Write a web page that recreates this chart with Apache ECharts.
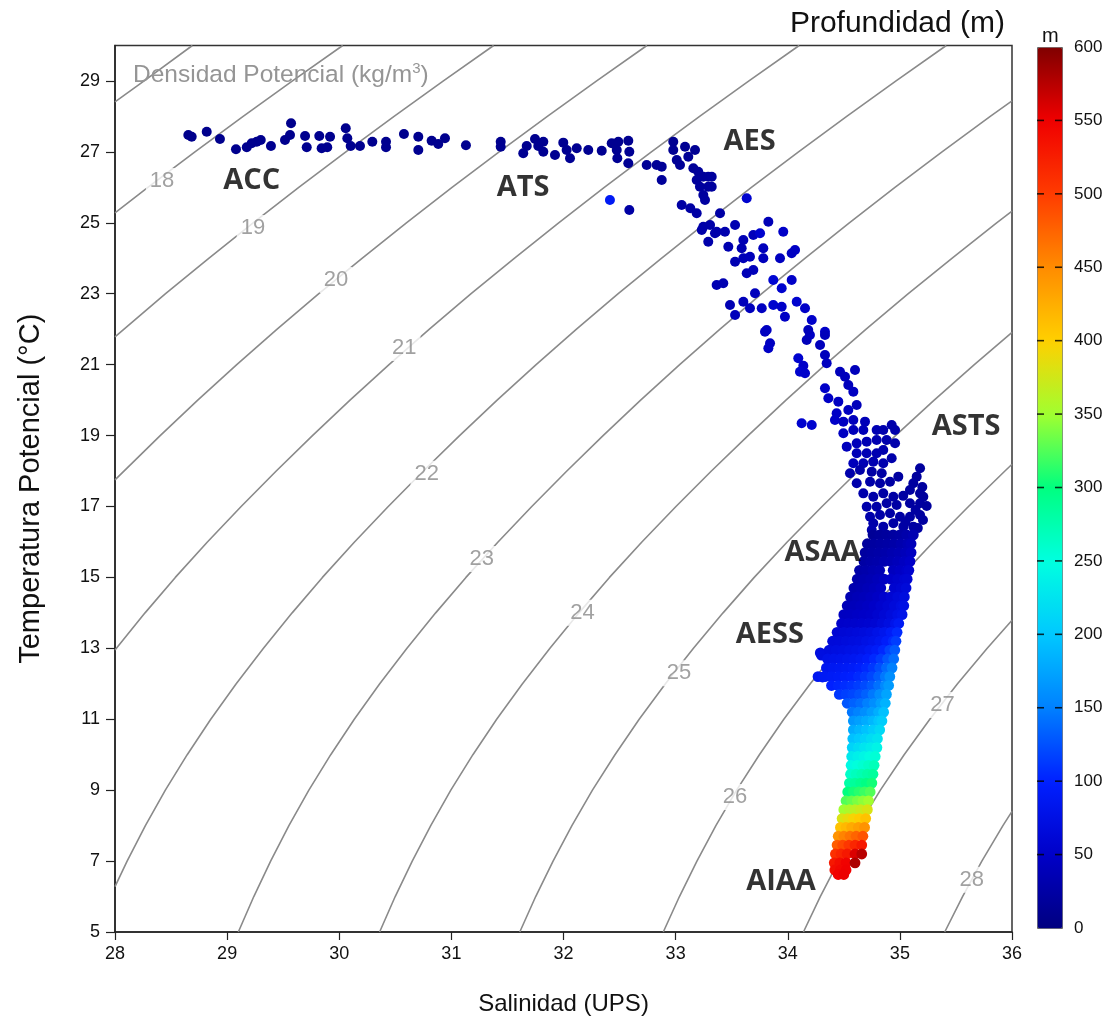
<!DOCTYPE html>
<html><head><meta charset="utf-8">
<script src="https://cdn.jsdelivr.net/npm/echarts@6/dist/echarts.min.js"></script>
<style>html,body{margin:0;padding:0;background:#fff}#c{width:1114px;height:1032px}</style>
</head><body><div id="c"></div><script>
// ---------- axis ticks ----------
const salTicks = [28,29,30,31,32,33,34,35,36];
const tempTicks = [5,7,9,11,13,15,17,19,21,23,25,27,29];
const depthTicks = [0,50,100,150,200,250,300,350,400,450,500,550,600];
const depthDashes = [50,100,150,200,250,300,350,400,450,500,550];

// ---------- isopycnals [S, T] ----------
const iso17 = [[28.0,28.41],[28.26,29],[28.69,30]];
const iso18 = [[28.0,25.28],[28.293,26],[28.713,27],[29.143,28],[29.583,29],[30.031,30]];
const iso19 = [[28.0,21.78],[28.451,23],[28.836,24],[29.232,25],[29.639,26],[30.059,27],[30.489,28],[30.929,29],[31.377,30]];
const iso20 = [[28.0,17.75],[28.403,19],[28.738,20],[29.086,21],[29.446,22],[29.818,23],[30.203,24],[30.599,25],[31.006,26],[31.426,27],[31.856,28],[32.296,29],[32.744,30]];
const iso21 = [[28.0,12.95],[28.268,14],[28.538,15],[28.824,16],[29.125,17],[29.438,18],[29.761,19],[30.096,20],[30.444,21],[30.804,22],[31.176,23],[31.561,24],[31.957,25],[32.364,26],[32.784,27],[33.214,28],[33.654,29],[34.102,30]];
const iso22 = [[28.0,6.28],[28.108,7],[28.271,8],[28.449,9],[28.644,10],[28.854,11],[29.081,12],[29.324,13],[29.58,14],[29.85,15],[30.136,16],[30.437,17],[30.75,18],[31.073,19],[31.408,20],[31.756,21],[32.116,22],[32.488,23],[32.873,24],[33.269,25],[33.676,26],[34.096,27],[34.526,28],[34.966,29],[35.414,30]];
const iso23 = [[29.10,5],[29.238,6],[29.388,7],[29.551,8],[29.729,9],[29.924,10],[30.134,11],[30.361,12],[30.604,13],[30.86,14],[31.13,15],[31.416,16],[31.717,17],[32.03,18],[32.353,19],[32.688,20],[33.036,21],[33.396,22],[33.768,23],[34.153,24],[34.549,25],[34.956,26],[35.376,27],[35.806,28],[36.0,28.44]];
const iso24 = [[30.36,5],[30.499,6],[30.651,7],[30.816,8],[30.995,9],[31.192,10],[31.404,11],[31.634,12],[31.879,13],[32.138,14],[32.41,15],[32.699,16],[33.003,17],[33.319,18],[33.646,19],[33.984,20],[34.335,21],[34.699,22],[35.075,23],[35.464,24],[35.863,25],[36.0,25.33]];
const iso25 = [[31.61,5],[31.752,6],[31.907,7],[32.075,8],[32.258,9],[32.459,10],[32.675,11],[32.909,12],[33.159,13],[33.423,14],[33.701,15],[33.995,16],[34.306,17],[34.628,18],[34.961,19],[35.306,20],[35.664,21],[36.0,21.91]];
const iso26 = [[32.89,5],[33.034,6],[33.19,7],[33.359,8],[33.544,9],[33.747,10],[33.965,11],[34.201,12],[34.454,13],[34.72,14],[35.001,15],[35.299,16],[35.612,17],[35.937,18],[36.0,18.19]];
const iso27 = [[34.14,5],[34.29,6],[34.454,7],[34.632,8],[34.826,9],[35.038,10],[35.267,11],[35.514,12],[35.779,13],[36.0,13.79]];
const iso28 = [[35.40,5],[35.559,6],[35.731,7],[35.919,8],[36.0,8.40]];
const isoLabels = ['18','19','20','21','22','23','24','25','26','27','28'];
const isoLabelPos = [[28.42,26.18],[29.23,24.85],[29.97,23.39],[30.58,21.47],[30.78,17.92],[31.27,15.52],[32.17,14.0],[33.03,12.30],[33.53,8.81],[35.38,11.40],[35.64,6.47]];

// ---------- water-mass labels ----------
const massNames = ['ACC','ATS','AES','ASTS','ASAA','AESS','AIAA'];
const massPos = [[29.22,26.18],[31.64,25.98],[33.66,27.28],[35.59,19.24],[34.31,15.69],[33.84,13.38],[33.94,6.41]];

// ---------- CTD observations [salinity, potential temperature, depth m] ----------
const accPts = [
[28.654,27.477,8],[28.684,27.429,8],[28.818,27.570,9],[28.936,27.364,9],[29.079,27.074,10],[29.175,27.130,10],[29.219,27.243,9],[29.264,27.288,10],[29.300,27.336,10],[29.391,27.166,11],[29.516,27.336,10],[29.561,27.477,9],[29.570,27.807,8],[29.695,27.449,10],[29.710,27.130,11],[29.822,27.449,10],[29.843,27.101,11],[29.893,27.130,11],[29.918,27.429,10],[30.058,27.666,9],[30.072,27.384,10],[30.102,27.166,11],[30.185,27.166,11],[30.295,27.288,10],[30.417,27.288,10],[30.417,27.130,11],[30.577,27.505,9],[30.705,27.429,10],[30.705,27.053,12]
];
const atsPts = [
[30.824,27.316,10],[30.883,27.223,10],[30.943,27.384,10],[31.130,27.186,11],[31.440,27.288,10],[31.440,27.147,11],[31.641,26.960,12],[31.672,27.166,11],[31.746,27.364,10],[31.775,27.166,11],[31.820,27.288,11],[31.820,27.006,12],[31.924,26.912,12],[31.998,27.260,11],[32.028,27.054,12],[32.058,26.820,13],[32.118,27.101,12],[32.221,27.054,12],[32.341,27.034,12],[32.430,27.243,11],[32.475,27.054,12],[32.489,27.288,11],[32.480,26.820,13],[32.578,27.316,11],[32.587,27.006,13],[32.578,26.679,14],[32.414,25.644,90],[32.587,25.362,25]
];
const aesPts = [
[32.742,26.632,15],[32.831,26.632,15],[32.876,26.584,16],[32.876,26.208,18],[32.979,27.288,12],[32.979,27.054,13],[33.010,26.772,15],[33.039,26.631,16],[33.084,27.147,13],[33.113,26.865,15],[33.173,27.054,14],[33.158,26.538,17],[33.202,26.442,18],[33.247,26.301,18],[33.291,26.301,19],[33.188,26.208,19],[33.217,26.019,20],[33.247,25.785,21],[33.291,26.019,20],[33.262,25.644,22],[33.054,25.503,25],[33.131,25.410,25],[33.188,25.269,26],[33.247,24.891,28],[33.307,24.939,28],[33.233,24.797,29],[33.351,24.705,30],[33.291,24.468,30],[33.366,23.247,35],
[33.322,26.301,20],[33.322,26.019,21],[33.396,25.269,26],[33.366,24.750,30],[33.440,24.750,32],[33.530,24.939,34],[33.470,24.327,33],[33.604,24.516,36],[33.589,24.282,34],[33.634,25.692,55],[33.693,24.657,40],[33.753,24.705,55],[33.827,25.032,38],[33.782,24.282,42],[33.960,24.750,50],[34.065,24.234,48],[34.035,24.141,45],[33.530,23.904,35],[33.604,24.000,38],[33.663,24.045,40],[33.782,24.000,42],[33.931,24.000,44],[33.693,23.670,40],[33.634,23.577,38],[33.425,23.295,34],[33.871,23.388,60],[33.946,23.154,55],[34.035,23.388,50],[33.708,23.013,42],[33.485,22.683,36],[33.604,22.776,40],[33.663,22.590,42],[33.768,22.590,45],[33.871,22.683,55],[33.946,22.635,50],[34.080,22.776,55],[34.154,22.590,50],[33.530,22.401,40],[33.975,22.353,48],[34.214,22.260,52],[33.812,21.978,45],[34.332,21.930,50],[34.198,21.837,48]
];
const astsPts = [
[33.797,21.930,45],[33.842,21.603,45],[33.827,21.462,48],[34.183,21.978,40],[34.169,21.696,40],[34.288,21.555,42],[34.332,21.837,40],[34.332,21.273,42],[34.347,21.039,44],[34.094,21.180,55],[34.139,20.971,50],[34.109,20.802,55],[34.154,20.756,52],[34.466,20.802,40],[34.511,20.661,42],[34.600,20.850,40],[34.332,20.334,50],[34.362,20.052,48],[34.451,19.956,45],[34.540,20.427,42],[34.585,20.238,45],[34.615,19.863,40],[34.540,19.722,45],[34.436,19.627,48],[34.421,19.439,50],[34.496,19.392,45],[34.585,19.439,42],[34.689,19.392,38],[34.124,19.345,55],[34.214,19.298,55],[34.496,19.063,45],[34.585,19.157,40],[34.674,19.157,38],[34.793,19.157,35],[34.852,19.157,32],[34.927,19.298,30],[34.957,19.157,30],[34.526,18.687,42],[34.615,18.780,40],[34.704,18.828,36],[34.793,18.875,34],[34.882,18.875,32],[34.957,18.781,30],[34.615,18.500,38],[34.704,18.500,36],[34.793,18.500,34],[34.852,18.594,32],[34.927,18.359,30],[34.585,18.218,40],[34.674,18.218,36],[34.763,18.264,34],[34.852,18.218,32],
[34.555,17.936,30],[34.644,18.029,28],[34.749,17.982,26],[34.838,17.936,25],[34.986,17.841,22],[35.180,18.078,20],
[34.615,17.653,30],[34.734,17.699,28],[34.823,17.653,26],[34.912,17.699,24],[35.150,17.841,20],[35.120,17.653,22],[35.200,17.550,21],
[34.674,17.370,30],[34.763,17.276,28],[34.852,17.370,26],[34.942,17.276,25],[35.090,17.465,22],[35.180,17.370,20],[35.209,17.276,20],[35.030,17.300,24],
[34.704,16.994,30],[34.793,16.994,28],[34.882,17.090,26],[34.971,17.042,25],[35.090,17.090,22],[35.180,17.090,22],[35.239,17.014,20],[35.140,16.900,23],
[34.734,16.712,30],[34.823,16.760,28],[34.912,16.808,26],[35.001,16.712,25],[35.090,16.712,24],[35.180,16.760,22],[35.206,16.620,22],[35.050,16.560,25],
[34.763,16.526,30],[34.852,16.431,28],[34.942,16.526,26],[35.031,16.431,25],[35.120,16.431,24],[34.749,16.337,32],[35.160,16.390,24]
];
const asaaPts = [
[34.76,16.2,15],[34.82,16.2,18],[34.88,16.2,20],[34.94,16.2,22],[35.00,16.2,25],[35.06,16.2,30],[35.12,16.2,35],
[34.71,15.95,20],[34.77,15.95,22],[34.83,15.95,24],[34.89,15.95,26],[34.95,15.95,28],[35.01,15.95,32],[35.07,15.95,36],[35.10,15.95,40],
[34.69,15.7,22],[34.75,15.7,25],[34.81,15.7,27],[34.87,15.7,30],[34.93,15.7,33],[34.99,15.7,36],[35.05,15.7,40],[35.10,15.7,45],
[34.68,15.45,25],[34.74,15.45,28],[34.80,15.45,30],[34.86,15.45,33],[34.92,15.45,36],[34.98,15.45,40],[35.04,15.45,45],[35.09,15.45,50],
[34.64,15.2,28],[34.70,15.2,30],[34.76,15.2,33],[34.82,15.2,36],[34.94,15.2,44],[35.00,15.2,48],[35.06,15.2,52],[35.08,15.2,55],
[34.62,14.95,30],[34.68,14.95,33],[34.74,14.95,36],[34.80,14.95,40],[34.86,14.95,45],[34.92,14.95,50],[34.98,14.95,54],[35.04,14.95,58],[35.065,14.95,60],
[34.59,14.7,32],[34.65,14.7,35],[34.71,14.7,38],[34.77,14.7,42],[34.83,14.7,46],[34.95,14.7,56],[35.01,14.7,60],[35.055,14.7,65],
[34.56,14.45,35],[34.62,14.45,38],[34.68,14.45,40],[34.74,14.45,44],[34.80,14.45,48],[34.86,14.45,54],[34.92,14.45,60],[34.98,14.45,65],[35.04,14.45,70],
[34.53,14.2,38],[34.59,14.2,40],[34.65,14.2,43],[34.71,14.2,46],[34.77,14.2,50],[34.83,14.2,55],[34.89,14.2,60],[34.95,14.2,66],[35.01,14.2,72],[35.035,14.2,75],
[34.50,13.95,45],[34.56,13.95,46],[34.62,13.95,48],[34.68,13.95,50],[34.74,13.95,52],[34.80,13.95,56],[34.86,13.95,62],[34.92,13.95,68],[34.98,13.95,75],[35.02,13.95,80],
[34.48,13.7,52],[34.54,13.7,53],[34.60,13.7,54],[34.66,13.7,55],[34.72,13.7,57],[34.78,13.7,60],[34.84,13.7,65],[34.90,13.7,72],[34.96,13.7,82],[34.99,13.7,90]
];
const aessPts = [
[34.44,13.45,60],[34.50,13.45,62],[34.56,13.45,64],[34.62,13.45,66],[34.68,13.45,68],[34.74,13.45,72],[34.80,13.45,78],[34.86,13.45,84],[34.92,13.45,94],[34.975,13.45,105],
[34.40,13.2,65],[34.46,13.2,66],[34.52,13.2,68],[34.58,13.2,70],[34.64,13.2,72],[34.70,13.2,76],[34.76,13.2,80],[34.82,13.2,86],[34.88,13.2,95],[34.94,13.2,105],[34.965,13.2,115],
[34.29,12.87,70],[34.30,12.81,72],
[34.37,12.95,70],[34.43,12.95,72],[34.49,12.95,74],[34.55,12.95,76],[34.61,12.95,78],[34.67,12.95,82],[34.73,12.95,88],[34.79,12.95,94],[34.85,12.95,104],[34.91,12.95,118],[34.955,12.95,130],
[34.355,12.7,78],[34.41,12.7,80],[34.47,12.7,82],[34.53,12.7,84],[34.59,12.7,86],[34.65,12.7,90],[34.71,12.7,96],[34.77,12.7,104],[34.83,12.7,114],[34.89,12.7,128],[34.945,12.7,140],
[34.345,12.45,85],[34.40,12.45,87],[34.46,12.45,89],[34.52,12.45,91],[34.58,12.45,94],[34.64,12.45,98],[34.70,12.45,104],[34.76,12.45,112],[34.82,12.45,124],[34.88,12.45,138],[34.93,12.45,150],
[34.27,12.20,85],[34.31,12.19,88],
[34.33,12.2,90],[34.39,12.2,92],[34.45,12.2,94],[34.51,12.2,97],[34.57,12.2,100],[34.63,12.2,105],[34.69,12.2,112],[34.75,12.2,120],[34.81,12.2,132],[34.87,12.2,146],[34.91,12.2,160],
[34.39,11.95,100],[34.45,11.95,103],[34.51,11.95,106],[34.57,11.95,110],[34.63,11.95,115],[34.69,11.95,122],[34.75,11.95,130],[34.81,11.95,142],[34.87,11.95,156],[34.90,11.95,168],
[34.46,11.7,112],[34.52,11.7,116],[34.58,11.7,120],[34.64,11.7,126],[34.70,11.7,134],[34.76,11.7,146],[34.82,11.7,160],[34.88,11.7,175],
[34.53,11.45,128],[34.59,11.45,134],[34.65,11.45,140],[34.71,11.45,150],[34.77,11.45,160],[34.83,11.45,172],[34.87,11.45,185],
[34.575,11.2,145],[34.63,11.2,152],[34.69,11.2,160],[34.75,11.2,170],[34.81,11.2,182],[34.855,11.2,195]
];
const aiaaPts = [
[34.585,10.95,165],[34.64,10.95,172],[34.70,10.95,180],[34.76,10.95,188],[34.81,10.95,198],[34.84,10.95,205],
[34.585,10.7,180],[34.64,10.7,188],[34.70,10.7,196],[34.76,10.7,205],[34.82,10.7,215],
[34.58,10.45,195],[34.635,10.45,202],[34.69,10.45,210],[34.745,10.45,218],[34.80,10.45,225],
[34.575,10.2,210],[34.63,10.2,218],[34.685,10.2,226],[34.74,10.2,233],[34.795,10.2,240],
[34.57,9.95,230],[34.625,9.95,236],[34.68,9.95,242],[34.73,9.95,248],[34.78,9.95,255],
[34.565,9.7,245],[34.62,9.7,252],[34.67,9.7,258],[34.72,9.7,264],[34.77,9.7,270],
[34.56,9.45,262],[34.61,9.45,268],[34.66,9.45,274],[34.71,9.45,280],[34.76,9.45,285],
[34.55,9.2,280],[34.60,9.2,286],[34.65,9.2,292],[34.70,9.2,298],[34.75,9.2,305],
[34.535,8.95,300],[34.585,8.95,306],[34.635,8.95,312],[34.685,8.95,318],[34.735,8.95,325],
[34.52,8.7,325],[34.57,8.7,331],[34.62,8.7,338],[34.67,8.7,344],[34.72,8.7,350],
[34.50,8.45,350],[34.55,8.45,357],[34.60,8.45,365],[34.65,8.45,372],[34.71,8.45,380],
[34.485,8.2,380],[34.535,8.2,388],[34.585,8.2,396],[34.64,8.2,403],[34.695,8.2,410],
[34.47,7.95,410],[34.52,7.95,418],[34.57,7.95,428],[34.63,7.95,436],[34.685,7.95,445],
[34.45,7.7,445],[34.50,7.7,455],[34.555,7.7,465],[34.61,7.7,475],[34.67,7.7,485],
[34.44,7.45,480],[34.49,7.45,492],[34.545,7.45,505],[34.60,7.45,518],[34.66,7.45,530],
[34.425,7.2,510],[34.475,7.2,520],[34.53,7.2,530],[34.60,7.2,560],[34.66,7.2,575],
[34.415,6.95,530],[34.465,6.95,540],[34.52,6.95,548],[34.60,6.95,580],
[34.42,6.75,540],[34.47,6.75,545],[34.52,6.75,550],
[34.45,6.62,548],[34.50,6.62,552]
];

const jetColors = ['#000080','#0000c8','#0020ff','#0080ff','#00c8ff','#00ffe0','#00ff80','#a0ff30','#ffd000','#ff8c00','#ff3c00','#f00000','#800000'];

const FONT = 'Liberation Sans, Arial, sans-serif';
const isoSets = [iso17,iso18,iso19,iso20,iso21,iso22,iso23,iso24,iso25,iso26,iso27,iso28];

const series = [];
isoSets.forEach(function (pts) {
  series.push({
    type: 'line', data: pts, smooth: false, showSymbol: false, silent: true, z: 1,
    lineStyle: { color: '#8a8a8a', width: 1.6 }, xAxisIndex: 0, yAxisIndex: 0
  });
});
series.push({
  type: 'scatter', silent: true, z: 2, symbolSize: 1,
  itemStyle: { color: 'rgba(0,0,0,0)' },
  data: isoLabelPos.map(function (p, i) { return [p[0], p[1], isoLabels[i]]; }),
  label: { show: true, position: 'inside', formatter: function (p) { return p.value[2]; },
    color: '#8a8a8a', fontSize: 22, fontFamily: FONT, backgroundColor: '#fff', padding: [2, 4] }
});
const dataStart = series.length;
[accPts, atsPts, aesPts, astsPts].forEach(function (pts) {
  series.push({ type: 'scatter', data: pts, symbolSize: 10, z: 3, silent: true,
    itemStyle: { opacity: 1 }, xAxisIndex: 0, yAxisIndex: 0 });
});
[asaaPts, aessPts, aiaaPts].forEach(function (pts) {
  series.push({ type: 'scatter', data: pts, symbolSize: 10.8, z: 3, silent: true,
    itemStyle: { opacity: 1 }, xAxisIndex: 0, yAxisIndex: 0 });
});
const dataIdx = [];
for (let i = dataStart; i < series.length; i++) dataIdx.push(i);
series.push({
  type: 'scatter', silent: true, z: 5, symbolSize: 1,
  itemStyle: { color: 'rgba(0,0,0,0)' },
  data: massPos.map(function (p, i) { return [p[0], p[1], massNames[i]]; }),
  label: { show: true, position: 'inside', formatter: function (p) { return p.value[2]; },
    color: '#000', fontSize: 29, fontWeight: 'bold', fontFamily: 'Open Sans, sans-serif' }
});
// colour-bar dashes on both edges
series.push({
  type: 'scatter', silent: true, z: 20, xAxisIndex: 1, yAxisIndex: 1,
  symbol: 'rect', symbolSize: [7, 1.6], itemStyle: { color: '#000' },
  data: depthDashes.map(function (d) { return [0.14, d]; }).concat(depthDashes.map(function (d) { return [0.86, d]; }))
});

const chart = echarts.init(document.getElementById('c'));
chart.setOption({
  animation: false,
  backgroundColor: '#fff',
  title: [
    { text: 'Densidad Potencial (kg/m{sup|3})', left: 128, top: 56,
      textStyle: { color: '#959595', fontSize: 24.5, fontWeight: 'normal', fontFamily: FONT,
        rich: { sup: { fontSize: 15, color: '#959595', fontFamily: FONT, padding: [0, 0, 13, 0] } } } },
    { text: 'Profundidad (m)', right: 104, top: 4,
      textStyle: { color: '#111', fontSize: 30, fontWeight: 'normal', fontFamily: FONT } },
    { text: 'm', left: 1037, top: 21,
      textStyle: { color: '#111', fontSize: 20, fontWeight: 'normal', fontFamily: FONT } }
  ],
  grid: [
    { left: 115, right: 102, top: 45.5, bottom: 100, show: true, borderColor: '#333', borderWidth: 1.5, containLabel: false },
    { left: 1037, top: 47, width: 25, height: 881, containLabel: false }
  ],
  xAxis: [
    { type: 'value', gridIndex: 0, min: 28, max: 36, interval: 1,
      name: 'Salinidad (UPS)', nameLocation: 'middle', nameGap: 60,
      nameTextStyle: { fontSize: 24, color: '#111', fontFamily: FONT },
      axisLine: { show: true, onZero: false, lineStyle: { color: '#222', width: 1.5 } },
      axisTick: { show: true, inside: false, length: 8, lineStyle: { color: '#222', width: 1.2 } },
      axisLabel: { fontSize: 18, color: '#111', fontFamily: FONT, margin: 13, customValues: salTicks },
      splitLine: { show: false } },
    { type: 'value', gridIndex: 1, min: 0, max: 1, show: false }
  ],
  yAxis: [
    { type: 'value', gridIndex: 0, min: 5, max: 30,
      name: 'Temperatura Potencial (°C)', nameLocation: 'middle', nameGap: 70, nameRotate: 90,
      nameTextStyle: { fontSize: 29, color: '#111', fontFamily: FONT },
      axisLine: { show: true, onZero: false, lineStyle: { color: '#222', width: 1.5 } },
      axisTick: { show: true, inside: false, length: 9, lineStyle: { color: '#222', width: 1.2 }, customValues: tempTicks },
      axisLabel: { fontSize: 18, color: '#111', fontFamily: FONT, margin: 15, customValues: tempTicks },
      splitLine: { show: false } },
    { type: 'value', gridIndex: 1, min: 0, max: 600, position: 'right',
      axisLine: { show: false },
      axisTick: { show: false },
      axisLabel: { fontSize: 17, color: '#111', fontFamily: FONT, margin: 12, customValues: depthTicks },
      splitLine: { show: false } }
  ],
  visualMap: {
    type: 'continuous', min: 0, max: 600, dimension: 2, seriesIndex: dataIdx,
    inRange: { color: jetColors },
    left: 1037, top: 47, itemWidth: 25, itemHeight: 881, padding: 0,
    calculable: false, hoverLink: false, text: null, realtime: false,
    borderColor: '#666', borderWidth: 1
  },
  series: series
});
</script></body></html>
